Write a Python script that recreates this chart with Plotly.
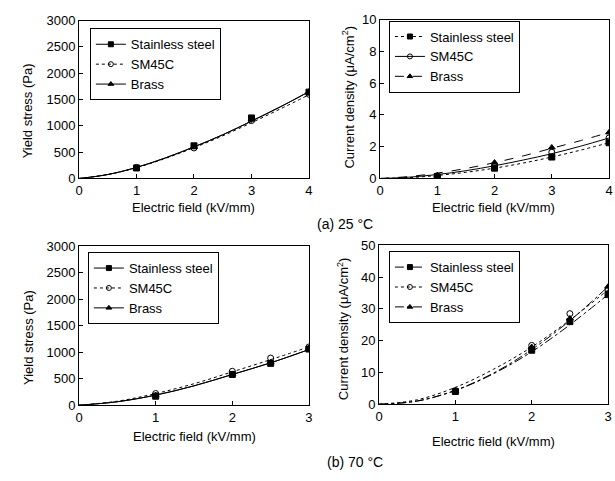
import plotly.graph_objects as go

# ---------------- data ----------------
materials = ["Stainless steel", "SM45C", "Brass"]

# (a) 25 C
E_a = [1, 2, 3, 4]
ys_a = {
    "Stainless steel": [200, 620, 1150, 1640],
    "SM45C": [210, 580, 1100, 1600],
    "Brass": [190, 600, 1120, 1650],
}
cd_a = {
    "Stainless steel": [0.1, 0.65, 1.35, 2.25],
    "SM45C": [0.15, 0.8, 1.65, 2.55],
    "Brass": [0.2, 1.0, 1.95, 2.9],
}
Efit_a = [0, 0.5, 1, 1.5, 2, 2.5, 3, 3.5, 4]
ys_a_fit = {
    "Stainless steel": [0, 75, 210, 390, 600, 830, 1090, 1360, 1650],
    "SM45C": [0, 75, 205, 380, 585, 810, 1060, 1320, 1590],
    "Brass": [0, 75, 210, 390, 600, 830, 1090, 1360, 1650],
}
cd_a_fit = {
    "Stainless steel": [0, 0.05, 0.19, 0.39, 0.65, 0.97, 1.35, 1.78, 2.25],
    "SM45C": [0, 0.08, 0.25, 0.49, 0.8, 1.16, 1.56, 2.03, 2.55],
    "Brass": [0, 0.12, 0.34, 0.63, 1.0, 1.42, 1.9, 2.38, 2.9],
}

# (b) 70 C
E_b = [1, 2, 2.5, 3]
ys_b = {
    "Stainless steel": [170, 580, 790, 1060],
    "SM45C": [220, 640, 890, 1100],
    "Brass": [190, 590, 810, 1080],
}
cd_b = {
    "Stainless steel": [4.0, 17.0, 26.0, 34.5],
    "SM45C": [4.3, 18.5, 28.5, 36.0],
    "Brass": [4.2, 18.0, 27.0, 37.0],
}
Efit_b = [0, 0.5, 1, 1.5, 2, 2.5, 3]
ys_b_fit = {
    "Stainless steel": [0, 65, 190, 365, 580, 800, 1050],
    "SM45C": [0, 75, 220, 405, 630, 860, 1100],
    "Brass": [0, 65, 190, 365, 580, 800, 1050],
}
cd_b_fit = {
    "Stainless steel": [0, 1.0, 4.3, 9.6, 16.5, 25.0, 34.5],
    "SM45C": [0, 1.4, 5.3, 11.0, 18.0, 26.5, 36.0],
    "Brass": [0, 1.0, 4.4, 9.8, 17.2, 26.3, 37.0],
}

xtitle = "Electric field (kV/mm)"
ytitle_stress = "Yield stress (Pa)"
ytitle_cd = "Current density (μA/cm<sup>2</sup>)"
panel_a = "(a) 25 °C"
panel_b = "(b) 70 °C"

# ---------------- styles ----------------
W, H = 615, 481
FONT = "Liberation Sans, Arial, sans-serif"
symbols = {"Stainless steel": "square", "SM45C": "circle-open", "Brass": "triangle-up"}
dashes = {
    1: {"Stainless steel": "solid", "SM45C": "dot", "Brass": "solid"},
    2: {"Stainless steel": "dot", "SM45C": "solid", "Brass": "dash"},
    3: {"Stainless steel": "solid", "SM45C": "dot", "Brass": "solid"},
    4: {"Stainless steel": "dashdot", "SM45C": "dot", "Brass": "dashdot"},
}

def px_x(a, b):
    return [a / W, b / W]

def px_y(top, bot):
    return [1 - bot / H, 1 - top / H]

panels = [
    (1, px_x(76, 309), px_y(14, 177), [0, 4], [0, 3000], 1, 500, E_a, ys_a, Efit_a, ys_a_fit, (87, 22)),
    (2, px_x(381, 613), px_y(13, 177), [0, 4], [0, 10], 1, 2, E_a, cd_a, Efit_a, cd_a_fit, (390, 14)),
    (3, px_x(76, 309), px_y(247, 411), [0, 3], [0, 3000], 1, 500, E_b, ys_b, Efit_b, ys_b_fit, (85, 253)),
    (4, px_x(380, 612), px_y(246, 410), [0, 3], [0, 50], 1, 10, E_b, cd_b, Efit_b, cd_b_fit, (390, 252)),
]

fig = go.Figure()
layout = {}
for idx, xd, yd, xr, yr, dx, dy, E, data, Ef, fit, (lx, ly) in panels:
    sfx = "" if idx == 1 else str(idx)
    xa, ya = "x" + sfx, "y" + sfx
    leg = "legend" if idx == 1 else "legend" + str(idx)
    for m in materials:
        fig.add_trace(go.Scatter(
            x=Ef, y=fit[m], mode="lines", line=dict(color="black", width=1, dash=dashes[idx][m], shape="spline"),
            xaxis=xa, yaxis=ya, showlegend=False, hoverinfo="skip"))
        fig.add_trace(go.Scatter(
            x=E, y=data[m], mode="markers",
            marker=dict(symbol=symbols[m], size=6, color="black", line=dict(color="black", width=1)),
            xaxis=xa, yaxis=ya, showlegend=False))
        fig.add_trace(go.Scatter(
            x=[None], y=[None], mode="lines+markers", name=m,
            line=dict(color="black", width=1, dash=dashes[idx][m]),
            marker=dict(symbol=symbols[m], size=5, color="black", line=dict(color="black", width=1)),
            xaxis=xa, yaxis=ya, legend=leg, showlegend=True))
    axcommon = dict(showline=True, mirror=True, linecolor="black", linewidth=1, ticks="inside",
                    ticklen=4, tickcolor="black", showgrid=False, zeroline=False,
                    tickfont=dict(size=13, color="black", family=FONT))
    layout["xaxis" + sfx] = dict(domain=xd, range=xr, dtick=dx, tick0=0, anchor=ya, **axcommon)
    layout["yaxis" + sfx] = dict(domain=yd, range=yr, dtick=dy, tick0=0, anchor=xa, **axcommon)
    layout[leg] = dict(x=lx / W, y=1 - ly / H, xanchor="left", yanchor="top",
                       bordercolor="black", borderwidth=1, bgcolor="white",
                       font=dict(size=13, color="black", family=FONT),
                       tracegroupgap=0, itemwidth=30)

annotations = []
def ann(text, x, y, size=13, angle=0):
    annotations.append(dict(text=text, x=x / W, y=1 - y / H, xref="paper", yref="paper",
                            showarrow=False, textangle=angle, xanchor="center", yanchor="middle",
                            font=dict(size=size, color="black", family=FONT)))

ann(xtitle, 192, 207)
ann(xtitle, 496, 207)
ann(xtitle, 193, 443)
ann(xtitle, 496, 449)
ann(ytitle_stress, 24, 107, angle=-90)
ann(ytitle_cd, 349, 93, angle=-90)
ann(ytitle_stress, 25, 341, angle=-90)
ann(ytitle_cd, 343, 332, angle=-90)
ann(panel_a, 345, 224, size=14)
ann(panel_b, 356, 470, size=14)

fig.update_layout(**layout)
fig.update_layout(width=W, height=H, margin=dict(l=0, r=0, t=0, b=0),
                  paper_bgcolor="white", plot_bgcolor="white",
                  font=dict(family=FONT, color="black"),
                  annotations=annotations)
fig.write_html("out.html")
